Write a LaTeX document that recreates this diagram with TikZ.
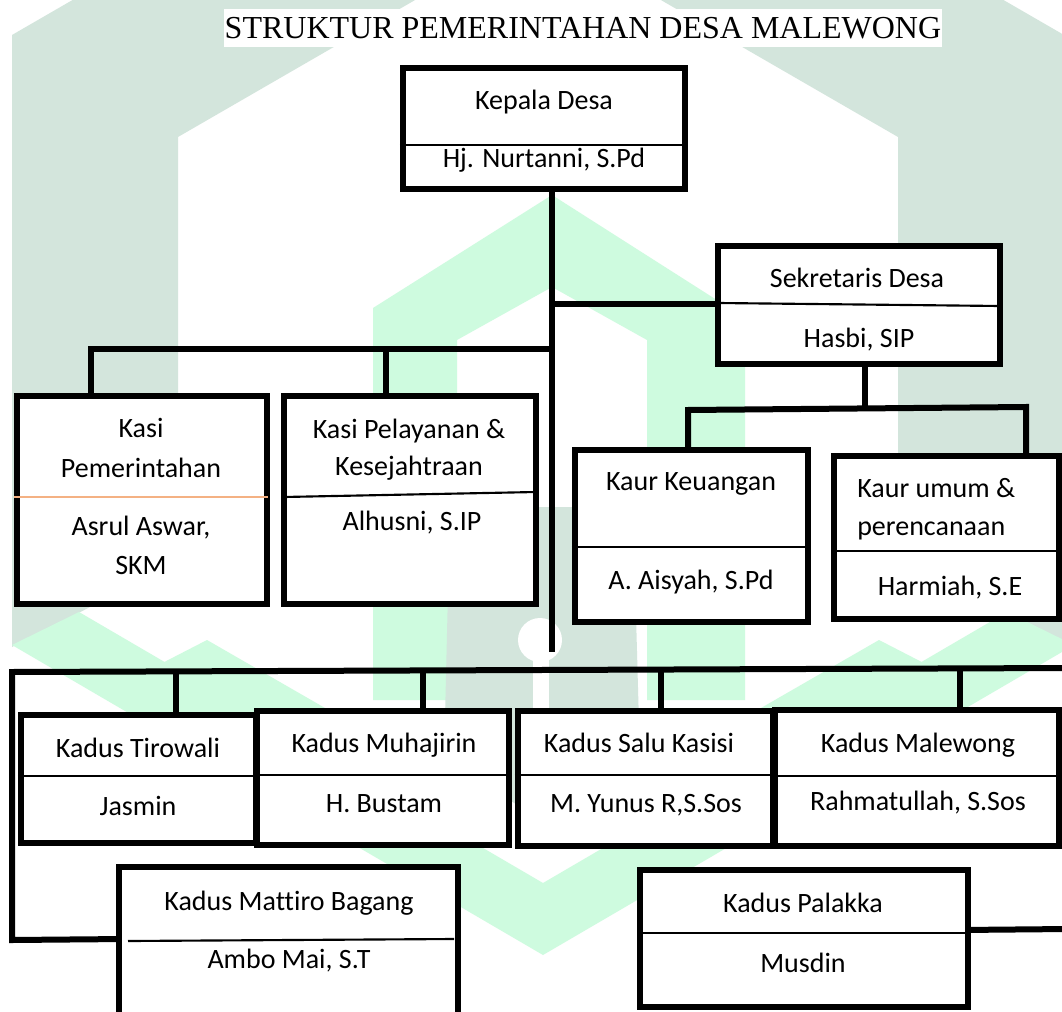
\documentclass[tikz,border=0pt]{standalone}
\usepackage{fontspec}
\setmainfont{Carlito}[Ligatures={NoCommon}]
\newfontfamily\titlefont{Liberation Serif}
\usetikzlibrary{fit}
\definecolor{wmgrey}{RGB}{211,229,220}
\definecolor{wmmint}{RGB}{206,251,223}
\definecolor{divorange}{RGB}{244,177,131}
\begin{document}
\begin{tikzpicture}[x=0.75pt,y=-0.75pt,
  box/.style={draw=black, fill=white, line width=4.8pt, inner sep=0pt, line join=miter},
  conn/.style={draw=black, line width=4.5pt, line join=miter},
  divl/.style={draw=black, line width=1.6pt},
  lbl/.style={font=\fontsize{21}{25}\selectfont, inner sep=0pt, anchor=base},
  wmg/.style={fill=wmgrey, draw=none},
  wmm/.style={fill=wmmint, draw=none}]
\useasboundingbox (0,0) rectangle (1062,1012);
\begin{scope}
\clip (0,0) rectangle (1062,1012);
\fill[white] (0,0) rectangle (1062,1012);
% watermark
\path[wmg] (12,647) -- (12,35) -- (538,-269) -- (1064,35) -- (1064,647) -- (898,562) -- (898,137) -- (538,-71) -- (178,137) -- (178,562) -- cycle;
\path[wmm] (12,645) -- (79,612) -- (543,883) -- (1007,612) -- (1074,645) -- (543,955) -- cycle;
\path[wmm] (373,700) -- (373,308) -- (552,195) -- (745,318) -- (745,700) -- (647,700) -- (647,340) -- (552,287) -- (457,340) -- (457,700) -- cycle;
\path[wmm] (141,674) -- (207,640) -- (450,780) -- (450,852) -- cycle;
\path[wmm] (945,674) -- (879,640) -- (636,780) -- (636,852) -- cycle;
\path[wmg] (450,507) -- (633,507) -- (640,760) -- (542,820) -- (444,760) -- cycle;
\fill[white] (540,640) circle (22);
\fill[white] (533,640) rectangle (549,760);

% title
\node[fill=white, minimum width=538.5pt, minimum height=29pt, inner sep=0pt,
      font=\titlefont\fontsize{24}{28}\selectfont] (title) at (583,28) {STRUKTUR PEMERINTAHAN DESA MALEWONG};

% coordinates for connectors
\coordinate (tk) at (552,652);
\coordinate (kb) at (552,349);
\coordinate (d1) at (91,349);
\coordinate (d2) at (386,349);
\coordinate (sd) at (865,409);
\coordinate (k1) at (688,410);
\coordinate (k2) at (1026,407);
\coordinate (kl) at (12,672);
\coordinate (kr) at (1068,668);
\coordinate (kbot) at (12,940);
\coordinate (e1) at (176,672);
\coordinate (e2) at (423,671);
\coordinate (e3) at (661,670);
\coordinate (e4) at (960,669);
\coordinate (pr) at (1068,929);

% upper connectors (under boxes)
\draw[conn, line width=4.3pt] (552,184) -- (tk);
\draw[conn] (tk |- 0,304) -- (730,304);
\draw[conn] (kb) -- (d1) -- (d1 |- 0,400);
\draw[conn] (d2) -- (d2 |- 0,400);
\draw[conn] (sd |- 0,360) -- (sd);
\draw[conn] (k1 |- 0,455) -- (k1) -- (k2) -- (k2 |- 0,460);
\draw[conn] (kr) -- (kl) -- (kbot) -- (125,939);
\foreach \e in {e1,e2,e3,e4} \draw[conn] (\e) -- (\e |- 0,715);
\draw[conn] (960,930) -- (pr);

% boxes
\node[box, fit={(403,68) (685,189)}] (kepala) {};
\node[box, fit={(718,246) (1000,364)}] (sek) {};
\node[box, fit={(17,396) (267,604)}] (kp) {};
\node[box, fit={(284,396) (536,604)}] (kpl) {};
\node[box, fit={(575,450) (808,622)}] (kk) {};
\node[box, fit={(834,456) (1059,619)}] (ku) {};
\node[box, fit={(21,715) (256,843)}] (kt) {};
\node[box, fit={(257,711) (509,845)}] (km) {};
\node[box, fit={(518,711) (773,846)}] (ks) {};
\node[box, fit={(775,710) (1059,846)}] (kml) {};
\node[box, fit={(119,867) (458,1030)}] (kmb) {};
\node[box, fit={(640,870) (968,1007)}] (kpk) {};

% dividers
\draw[divl] (kepala.west |- 0,145) -- (kepala.east |- 0,145);
\draw[divl] (718,303) -- (1000,306);
\draw[draw=divorange, line width=1.9pt] (14,497) -- (268,497);
\draw[divl] (284,497) -- (536,492);
\draw[divl] (kk.west |- 0,547) -- (kk.east |- 0,547);
\draw[divl] (834,551) -- (1062,551);
\draw[divl] (kt.west |- 0,776) -- (kt.east |- 0,776);
\draw[divl] (km.west |- 0,775) -- (km.east |- 0,775);
\draw[divl] (ks.west |- 0,775) -- (ks.east |- 0,775);
\draw[divl] (kml.west |- 0,776) -- (kml.east |- 0,776);
\draw[divl] (128,941) -- (454,939);
\draw[divl] (637,933) -- (kpk.east |- 0,933);

% labels
\node[lbl] (l1) at (544,110) {Kepala Desa};
\node[lbl] (l2) at (544,168) {Hj. Nurtanni, S.Pd};
\node[lbl] (l3) at (857,287) {Sekretaris Desa};
\node[lbl] (l4) at (859,347) {Hasbi, SIP};
\node[lbl] (l5) at (141,437) {Kasi};
\node[lbl] (l6) at (141,477) {Pemerintahan};
\node[lbl] (l7) at (141,535) {Asrul Aswar,};
\node[lbl] (l8) at (141,574) {SKM};
\node[lbl] (l9) at (409,438) {Kasi Pelayanan \&};
\node[lbl] (l10) at (409,475) {Kesejahtraan};
\node[lbl] (l11) at (412,530) {Alhusni, S.IP};
\node[lbl] (l12) at (691,490) {Kaur Keuangan};
\node[lbl] (l13) at (691,589) {A. Aisyah, S.Pd};
\node[lbl, anchor=base west] (l14) at (857,497) {Kaur umum \&};
\node[lbl, anchor=base west] (l15) at (857,535) {perencanaan};
\node[lbl] (l16) at (950,595) {Harmiah, S.E};
\node[lbl] (l17) at (138,757) {Kadus Tirowali};
\node[lbl] (l18) at (138,815) {Jasmin};
\node[lbl] (l19) at (384,752) {Kadus Muhajirin};
\node[lbl] (l20) at (384,812) {H. Bustam};
\node[lbl] (l21) at (639,752) {Kadus Salu Kasisi};
\node[lbl] (l22) at (646,812) {M. Yunus R,S.Sos};
\node[lbl] (l23) at (918,752) {Kadus Malewong};
\node[lbl] (l24) at (918,810) {Rahmatullah, S.Sos};
\node[lbl] (l25) at (289,910) {Kadus Mattiro Bagang};
\node[lbl] (l26) at (289,968) {Ambo Mai, S.T};
\node[lbl] (l27) at (803,912) {Kadus Palakka};
\node[lbl] (l28) at (803,972) {Musdin};
\end{scope}
\end{tikzpicture}
\end{document}
